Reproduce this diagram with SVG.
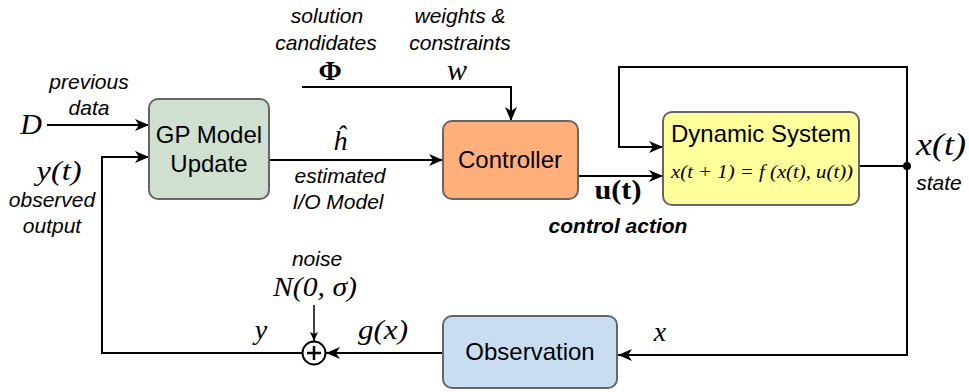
<svg xmlns="http://www.w3.org/2000/svg" width="969" height="392" viewBox="0 0 969 392">
<style>
.box{stroke:#666;stroke-width:2}
.lbl{font-family:"Liberation Sans",Arial,sans-serif;font-size:24px;fill:#000;text-anchor:middle}
.it{font-family:"Liberation Sans",Arial,sans-serif;font-style:italic;font-size:21px;fill:#000;text-anchor:middle}
.bi{font-family:"Liberation Sans",Arial,sans-serif;font-style:italic;font-weight:bold;font-size:21px;fill:#000;text-anchor:middle}
.m{font-family:"Liberation Serif","Times New Roman",serif;font-style:italic;font-size:26px;fill:#000;text-anchor:middle}
.w{fill:none;stroke:#000;stroke-width:2}
</style>
<defs>
<marker id="arr" markerUnits="userSpaceOnUse" markerWidth="16" markerHeight="12" refX="14" refY="6" orient="auto">
<path d="M0,0 L14,6 L0,12 L4,6 z" fill="#000"/>
</marker>
<marker id="arrs" markerUnits="userSpaceOnUse" markerWidth="10" markerHeight="10" refX="9" refY="5" orient="auto">
<path d="M0,1 L9,5 L0,9 L2,5 z" fill="#000"/>
</marker>
</defs>
<g id="connectors">
<path class="w" d="M47,125 H149" marker-end="url(#arr)"/>
<path class="w" d="M302,353 H102 V157 H149" marker-end="url(#arr)"/>
<path class="w" d="M269,160 H443" marker-end="url(#arr)"/>
<path class="w" d="M302,87 H511 V121" marker-end="url(#arr)"/>
<path class="w" d="M578,176 H663" marker-end="url(#arr)"/>
<path class="w" d="M859,166 H907 V67 H619 V147 H663" marker-end="url(#arr)"/>
<path class="w" d="M907,166 V355 H618" marker-end="url(#arr)"/>
<path class="w" d="M443,353 H326" marker-end="url(#arr)"/>
<path d="M314,305 V341" fill="none" stroke="#000" stroke-width="1.5" marker-end="url(#arrs)"/>
<circle cx="907" cy="166" r="4" fill="#000"/>
</g>
<g id="gp">
<rect class="box" x="149" y="99" width="120" height="100" rx="9" fill="#d0e0d0"/>
<text class="lbl" x="209" y="143">GP Model</text>
<text class="lbl" x="209" y="172">Update</text>
</g>
<g id="controller">
<rect class="box" x="443" y="121" width="135" height="78" rx="9" fill="#ffb07a"/>
<text class="lbl" x="510" y="168">Controller</text>
</g>
<g id="dynamic">
<rect class="box" x="663" y="112" width="196" height="93" rx="9" fill="#ffff9c"/>
<text class="lbl" x="761" y="142">Dynamic System</text>
<text class="m" x="762" y="178" style="font-size:19px" textLength="182" lengthAdjust="spacingAndGlyphs">x(t + 1) = f (x(t), u(t))</text>
</g>
<g id="observation">
<rect class="box" x="443" y="316" width="174" height="72" rx="9" fill="#c9ddf2"/>
<text class="lbl" x="530" y="360">Observation</text>
</g>
<g id="sum">
<circle cx="314" cy="353" r="11.5" fill="#fff" stroke="#000" stroke-width="2"/>
<path d="M314,346 V360 M307,353 H321" stroke="#000" stroke-width="2.5"/>
</g>
<g id="labels">
<text class="m" x="31" y="134" style="font-size:30px">D</text>
<text class="it" x="89" y="89">previous</text>
<text class="it" x="89" y="115">data</text>
<text class="m" x="59" y="180" style="font-size:28px" textLength="45" lengthAdjust="spacingAndGlyphs">y(t)</text>
<text class="it" x="52" y="207">observed</text>
<text class="it" x="52" y="233">output</text>
<text class="it" x="327" y="23">solution</text>
<text class="it" x="326" y="50">candidates</text>
<text class="m" x="330" y="80" style="font-style:normal;font-weight:bold;font-size:28px">Φ</text>
<text class="it" x="460" y="23">weights &amp;</text>
<text class="it" x="460" y="50">constraints</text>
<text class="m" x="457" y="80" style="font-size:30px">w</text>
<text class="m" x="340" y="150" style="font-size:28px">ĥ</text>
<text class="it" x="340" y="183">estimated</text>
<text class="it" x="338" y="209">I/O Model</text>
<text class="m" x="618" y="199" style="font-style:normal;font-weight:bold;font-size:28px" textLength="47" lengthAdjust="spacingAndGlyphs">u(t)</text>
<text class="bi" x="618" y="233">control action</text>
<text class="m" x="941" y="155" style="font-size:32px" textLength="50" lengthAdjust="spacingAndGlyphs">x(t)</text>
<text class="it" x="939" y="190">state</text>
<text class="m" x="660" y="341" style="font-size:28px">x</text>
<text class="it" x="317" y="266">noise</text>
<text class="m" x="315" y="296" style="font-size:28px" textLength="84" lengthAdjust="spacingAndGlyphs">N(0, σ)</text>
<text class="m" x="383" y="339" style="font-size:28px" textLength="50" lengthAdjust="spacingAndGlyphs">g(x)</text>
<text class="m" x="261" y="339" style="font-size:28px">y</text>
</g>
</svg>
